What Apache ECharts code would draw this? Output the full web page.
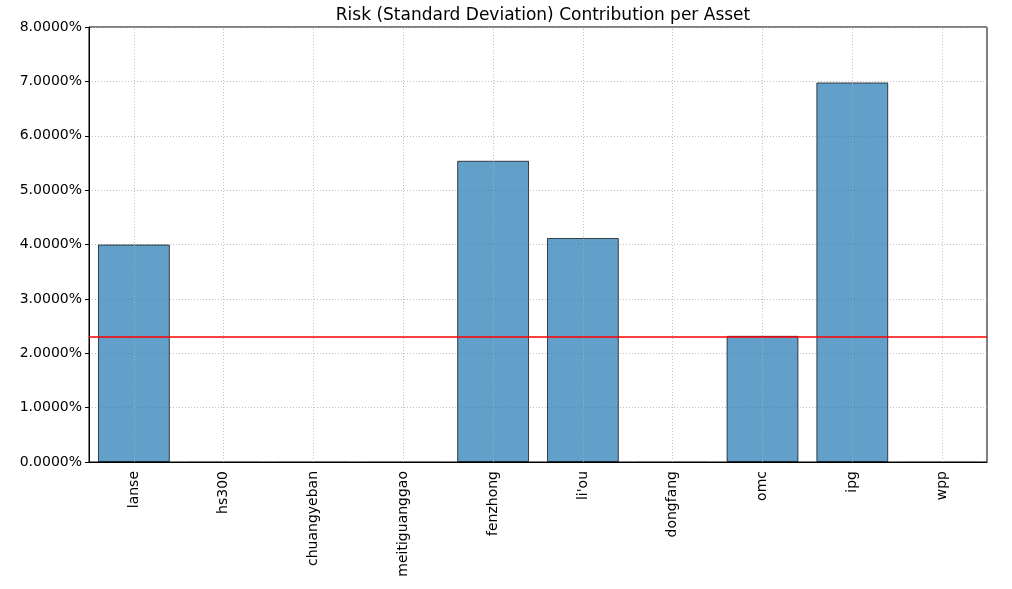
<!DOCTYPE html>
<html>
<head>
<meta charset="utf-8">
<script src="https://cdn.jsdelivr.net/npm/echarts@6/dist/echarts.min.js"></script>
<style>html,body{margin:0;padding:0;background:#fff}#c{width:1012px;height:589px}</style>
</head>
<body>
<div id="c"></div>
<script>
const categories = ['lanse','hs300','chuangyeban','meitiguanggao','fenzhong',"li'ou",'dongfang','omc','ipg','wpp'];
const contributions = [4.00, 0, 0, 0, 5.54, 4.12, 0, 2.32, 6.98, 0];
const meanLine = 2.30;
const yTicks = [0,1,2,3,4,5,6,7,8];

const font = 'DejaVu Sans';
const chart = echarts.init(document.getElementById('c'), null, {renderer: 'canvas'});
const gridLineStyle = {color: '#b0b0b0', type: [1, 2], width: 0.8};
chart.setOption({
  animation: false,
  title: {
    text: 'Risk (Standard Deviation) Contribution per Asset',
    left: 538, top: 2, textAlign: 'center',
    textStyle: {fontFamily: font, fontSize: 17, fontWeight: 'normal', color: '#000'}
  },
  grid: {left: 89, right: 25, top: 27, bottom: 127, show: true, borderColor: '#000', borderWidth: 1, backgroundColor: 'transparent'},
  xAxis: {
    type: 'category', data: categories, boundaryGap: true,
    axisLine: {lineStyle: {color: '#000', width: 1}},
    axisTick: {alignWithLabel: true, length: 4, lineStyle: {color: '#000'}},
    axisLabel: {rotate: 90, fontFamily: font, fontSize: 14, color: '#000', margin: 9},
    splitLine: {show: false}
  },
  yAxis: {
    type: 'value', min: yTicks[0], max: yTicks[yTicks.length-1], interval: 1,
    axisLine: {show: true, lineStyle: {color: '#000', width: 1}},
    axisTick: {show: true, length: 4, lineStyle: {color: '#000'}},
    axisLabel: {fontFamily: font, fontSize: 14, color: '#000', margin: 7, formatter: v => v.toFixed(4) + '%'},
    splitLine: {show: true, lineStyle: gridLineStyle}
  },
  series: [{
    type: 'bar',
    data: contributions.map(v => v === 0 ? {value: v, itemStyle: {borderColor: 'rgba(0,0,0,0.12)'}} : v),
    barWidth: '80%',
    itemStyle: {color: 'rgba(31,119,180,0.7)', borderColor: 'rgba(0,0,0,0.7)', borderWidth: 1},
    markLine: {
      silent: true, symbol: 'none', animation: false,
      label: {show: false},
      data: categories.map(c => ({xAxis: c, lineStyle: gridLineStyle})).concat([
        {yAxis: meanLine, lineStyle: {color: '#ff0000', type: 'solid', width: 1.6}}
      ])
    }
  }]
});
</script>
</body>
</html>
